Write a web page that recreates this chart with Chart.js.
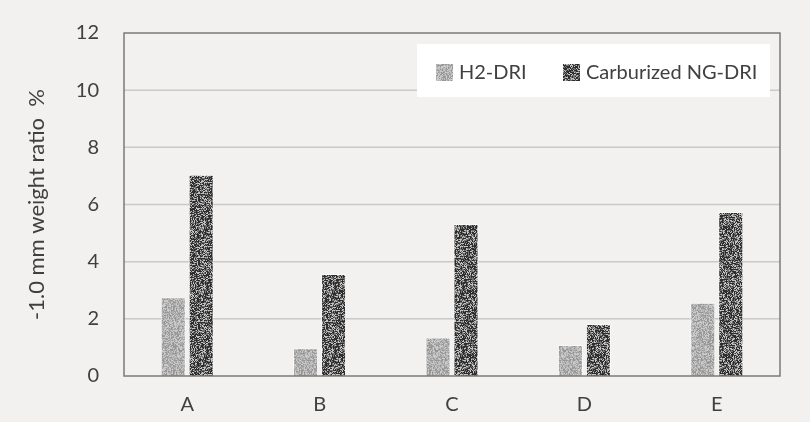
<!DOCTYPE html>
<html><head><meta charset="utf-8">
<script src="https://cdn.jsdelivr.net/npm/chart.js@4/dist/chart.umd.min.js"></script>
<style>html,body{margin:0;padding:0;background:#f2f1ef;}#wrap{width:810px;height:422px;}</style>
</head><body><div id="wrap"><canvas id="c" width="810" height="422"></canvas></div>
<script>
const categories = ['A','B','C','D','E'];
const h2Values = [2.75, 0.96, 1.34, 1.08, 2.56];
const ngValues = [7.03, 3.56, 5.31, 1.81, 5.73];
const seriesNames = ['H2-DRI', 'Carburized NG-DRI'];
const yTicks = [0,2,4,6,8,10,12];

function hash(x,y,s){let h=(x*374761393+y*668265263+s*1442695041)|0;h=(h^(h>>>13))*1274126177|0;h=h^(h>>>16);return (h>>>0)/4294967296;}
function makePattern(dark){
  const cv=document.createElement('canvas');cv.width=64;cv.height=64;
  const g=cv.getContext('2d');const img=g.createImageData(64,64);
  for(let y=0;y<64;y++)for(let x=0;x<64;x++){
    const r=hash(x,y,dark?7:3);let v;
    if(dark){v=r<0.45?45:(r<0.75?115:195);}else{v=r<0.3?150:(r<0.7?174:202);}
    const i=(y*64+x)*4;img.data[i]=img.data[i+1]=img.data[i+2]=v;img.data[i+3]=255;}
  g.putImageData(img,0,0);
  return document.getElementById('c').getContext('2d').createPattern(cv,'repeat');
}
const pLight=makePattern(false), pDark=makePattern(true);
const FONT='Lato, "Open Sans", sans-serif';
const TXT='#404040';
const INSET=3;

const framePlugin={id:'frame',
  beforeDraw(chart){const ctx=chart.ctx;ctx.save();ctx.fillStyle='#f2f1ef';ctx.fillRect(0,0,chart.width,chart.height);ctx.restore();},
  beforeDatasetsDraw(chart){
    const ctx=chart.ctx,a=chart.chartArea,ys=chart.scales.y;ctx.save();
    ctx.strokeStyle='#c9c9c9';ctx.lineWidth=1.5;
    ys.ticks.forEach(t=>{if(t.value<=0||t.value>=12)return;const y=ys.getPixelForValue(t.value);
      ctx.beginPath();ctx.moveTo(a.left+INSET,y);ctx.lineTo(a.right-INSET,y);ctx.stroke();});
    ctx.restore();
  },
  afterDatasetsDraw(chart){
    const ctx=chart.ctx,a=chart.chartArea;ctx.save();
    ctx.strokeStyle='#7a7a7a';ctx.lineWidth=1.5;
    ctx.strokeRect(a.left+INSET,a.top,a.right-a.left-2*INSET,a.bottom-a.top);
    const bx=417,by=44,bw=353,bh=53;
    ctx.fillStyle='#ffffff';ctx.fillRect(bx,by,bw,bh);
    ctx.font='20px '+FONT;ctx.textBaseline='middle';
    const items=[{x:436,p:pLight},{x:563,p:pDark}];
    chart.data.datasets.forEach((d,i)=>{
      const it=items[i];ctx.fillStyle=it.p;ctx.fillRect(it.x,64,17,17);
      ctx.fillStyle=TXT;ctx.fillText(d.label,it.x+23,73);
    });
    ctx.restore();
  }};

new Chart(document.getElementById('c'),{
  type:'bar',
  data:{labels:categories,datasets:[
    {label:seriesNames[0],data:h2Values,backgroundColor:pLight,borderColor:'#ffffff',borderWidth:0.8},
    {label:seriesNames[1],data:ngValues,backgroundColor:pDark,borderColor:'#ffffff',borderWidth:0.8}
  ]},
  options:{responsive:false,animation:false,devicePixelRatio:1,
    layout:{padding:{top:33,right:27,left:0,bottom:0}},
    datasets:{bar:{categoryPercentage:0.4226,barPercentage:0.88}},
    plugins:{legend:{display:false},tooltip:{enabled:false}},
    scales:{
      x:{grid:{display:false},border:{display:false},
        ticks:{color:TXT,font:{family:FONT,size:20},padding:9},
        afterFit(s){s.height=46;}},
      y:{min:0,max:12,
        afterBuildTicks(s){s.ticks=yTicks.map(v=>({value:v}));},
        grid:{display:false},border:{display:false},
        ticks:{color:TXT,font:{family:FONT,size:20},padding:14},
        title:{display:true,text:'-1.0 mm weight ratio  %',color:TXT,font:{family:FONT,size:22},padding:{top:24,bottom:0}},
        afterFit(s){s.width=121;}}
    }},
  plugins:[framePlugin]
});
</script></body></html>
